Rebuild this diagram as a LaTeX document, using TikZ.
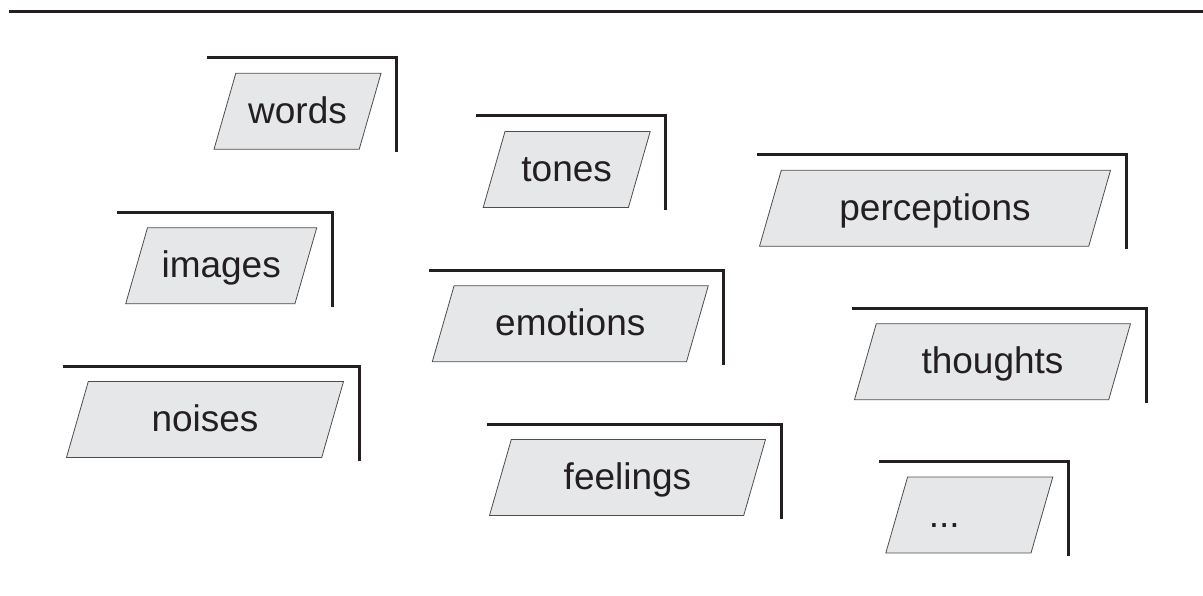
\documentclass[tikz,border=0pt]{standalone}
\usepackage{fontspec}
\setmainfont{Liberation Sans}
\usetikzlibrary{shapes.geometric}
\definecolor{boxgray}{RGB}{230,231,232}
\definecolor{inkblack}{RGB}{35,31,32}
\begin{document}
\begin{tikzpicture}[x=1pt,y=-1pt,
    item/.style={trapezium, trapezium left angle=74, trapezium right angle=106,
      trapezium stretches body, draw=inkblack!80, line width=0.8pt, fill=boxgray,
      text=inkblack, font=\fontsize{37}{44}\selectfont, align=center,
      text height=29.5pt, text depth=5.5pt, inner xsep=2pt, inner ysep=20.5pt,
      outer sep=0pt},
    frame/.style={draw=inkblack, line width=3pt}]
  \useasboundingbox (0,0) rectangle (1203,596);
  %% rule on top
  \coordinate (rule-l) at (9,11.5);
  \coordinate (rule-r) at (1203,11.5);
  \draw[frame] (rule-l) -- (rule-r);
  %% items with their frames
  \foreach \name/\cx/\cy/\bw/\lo/\txt in {
      words/297.5/111.3/167/7/words,
      tones/566.7/169.5/167/7.5/tones,
      images/221.2/265.8/191/8.4/images,
      noises/205/419.5/277/3.4/noises,
      emotions/570.3/323.7/276/3.3/emotions,
      thoughts/992.5/361.7/276/2.6/thoughts,
      feelings/627.5/477.5/276/2.6/feelings,
      perceptions/935/208.3/351/2.6/perceptions,
      more/969.3/515/167/7/{...\hspace*{50pt}}} {
    \pgfmathsetmacro\tw{\bw-48}
    \node[item, text width=\tw pt, minimum width=\bw pt] (\name) at (\cx,\cy) {\txt};
    \coordinate (\name-a) at ([xshift=-\lo pt]\name.bottom left corner);
    \coordinate (\name-b) at ([shift={(15.5pt,15.5pt)}]\name.top right corner);
    \coordinate (\name-c) at ([yshift=-3pt]\name.bottom right corner);
    \draw[frame] (\name-a |- \name-b) -- (\name-b) -- (\name-b |- \name-c);
  }
\end{tikzpicture}
\end{document}
